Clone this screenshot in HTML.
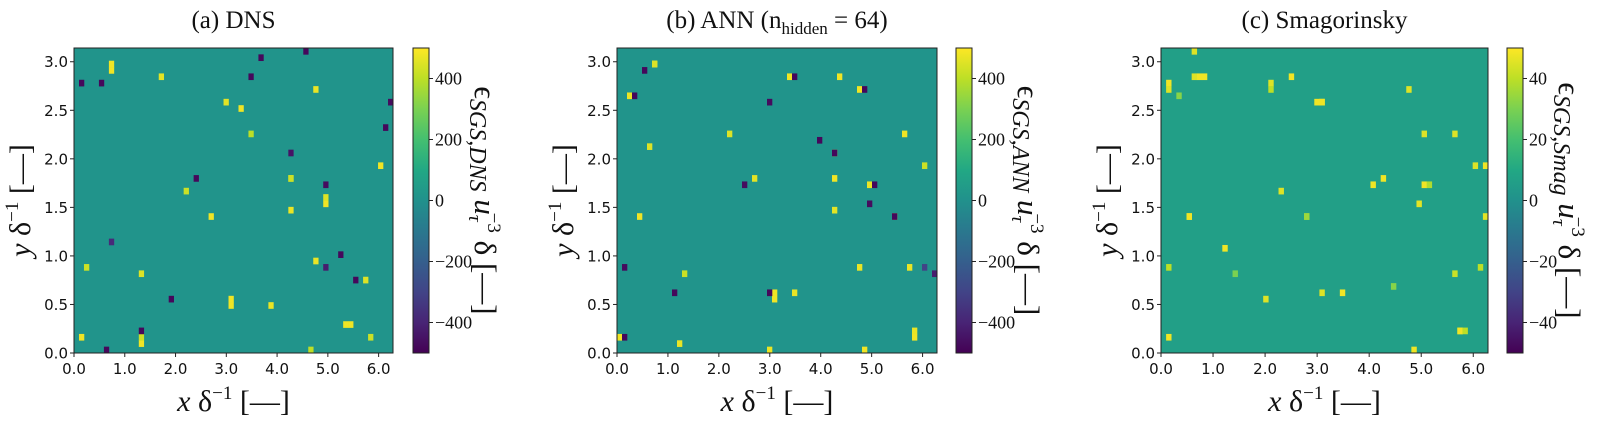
<!DOCTYPE html>
<html><head><meta charset="utf-8"><style>
html,body{margin:0;padding:0;background:#fff;}
svg{display:block;}
</style></head><body>
<svg id="fig" width="1605" height="423" viewBox="0 0 1605 423" xmlns="http://www.w3.org/2000/svg"></svg>
<script>
// ---- data: hot-spot cells [x, y, value] per panel ----
const dnsSpots = [[0.71,2.93,480],[0.71,2.99,480],[3.05,0.52,480],[3.05,0.58,480],[4.30,1.80,480],[4.24,1.80,420],[4.30,1.47,470],[4.91,1.54,480],[4.91,1.60,450],[5.35,0.29,480],[5.42,0.29,480],[1.29,0.12,480],[1.29,0.18,420],[1.35,0.79,450],[3.53,2.26,400],[3.28,2.52,480],[2.20,1.70,420],[2.71,1.40,480],[3.89,0.49,470],[0.10,0.16,480],[4.73,0.93,470],[5.72,0.76,450],[5.89,0.19,420],[4.81,2.71,470],[1.73,2.84,460],[6.02,1.94,480],[0.27,0.88,420],[3.01,2.58,460],[4.71,0.02,400],
[0.51,2.81,-480],[0.10,2.79,-480],[3.45,2.84,-480],[3.70,3.05,-480],[6.13,2.31,-480],[6.19,2.58,-470],[5.52,0.76,-480],[4.94,0.86,-420],[0.68,0.04,-480],[2.44,1.80,-480],[5.00,1.73,-470],[4.60,3.11,-480],[4.26,2.05,-450],[1.96,0.57,-480],[1.31,0.23,-480],[0.71,1.15,-380],[5.28,1.01,-480]];
const annSpots = [[0.71,2.95,480],[0.71,3.01,480],[0.78,2.95,450],[3.07,0.62,480],[3.07,0.56,480],[4.25,1.80,480],[4.77,2.71,480],[5.89,0.19,480],[5.89,0.25,470],[5.69,2.26,480],[4.25,2.06,470],[4.41,2.84,480],[3.43,2.84,480],[4.74,0.91,470],[0.28,2.66,470],[0.09,0.15,480],[1.27,0.09,470],[1.33,0.79,420],[0.48,1.40,480],[2.18,2.26,450],[2.71,1.80,460],[5.00,1.73,470],[3.50,0.62,470],[5.73,0.89,470],[5.99,1.94,420],[4.87,0.03,480],[2.97,0.03,470],[0.68,2.12,450],[4.28,1.47,460],[5.40,1.40,460],
[0.54,2.91,-480],[3.50,2.84,-480],[0.35,2.64,-480],[4.88,2.71,-480],[5.10,1.73,-480],[5.46,1.40,-480],[0.15,0.15,-480],[3.01,0.62,-480],[4.02,2.19,-480],[4.28,2.06,-480],[6.24,0.82,-420],[6.08,0.87,-300],[5.00,1.54,-470],[2.51,1.73,-470],[0.15,0.89,-470],[1.13,0.62,-480],[3.00,2.60,-470]];
const smagSpots = [[0.75,2.86,48],[0.82,2.86,48],[0.68,2.86,45],[0.18,2.79,48],[0.18,2.73,45],[2.98,2.58,48],[3.05,2.58,48],[3.12,2.58,48],[2.48,2.84,48],[2.15,2.79,45],[2.15,2.73,40],[0.65,3.10,45],[0.51,1.40,48],[0.58,1.40,48],[2.75,1.40,35],[2.82,1.40,35],[2.32,1.66,45],[4.09,1.74,48],[4.26,1.80,48],[5.09,1.74,48],[5.16,1.74,38],[4.92,1.53,46],[6.02,1.93,45],[6.19,1.93,48],[6.22,1.40,46],[5.02,2.26,45],[5.66,2.26,45],[4.79,2.71,45],[1.25,1.08,48],[0.15,0.87,40],[0.15,0.17,48],[5.79,0.23,48],[5.72,0.23,48],[5.86,0.23,40],[3.52,0.62,48],[3.05,0.62,45],[2.02,0.55,45],[4.89,0.03,48],[5.66,0.82,42],[6.09,0.89,40],[1.45,0.80,30],[4.42,0.68,32],[0.38,2.65,32]];
const xTicks = [0,1,2,3,4,5,6];
const yTicks = [0,0.5,1,1.5,2,2.5,3];
const cbTicksDNS = [-400,-200,0,200,400];
const cbTicksSmag = [-40,-20,0,20,40];
const titles = ["(a) DNS","(b) ANN","(c) Smagorinsky"];
// ---------------------------------------------------------------------------
const NS="http://www.w3.org/2000/svg";
const svg=document.getElementById('fig');
const VIR=["#440154","#482475","#414487","#355f8d","#2a788e","#21918c","#22a884","#44bf70","#7ad151","#bddf26","#fde725"];
function hex(c){return [parseInt(c.substr(1,2),16),parseInt(c.substr(3,2),16),parseInt(c.substr(5,2),16)];}
function viridis(t){t=Math.max(0,Math.min(1,t));const f=t*10,i=Math.min(9,Math.floor(f)),r=f-i;const a=hex(VIR[i]),b=hex(VIR[i+1]);return `rgb(${a.map((v,k)=>Math.round(v+(b[k]-v)*r)).join(',')})`;}
function el(tag,attrs,parent){const e=document.createElementNS(NS,tag);for(const k in attrs)e.setAttribute(k,attrs[k]);(parent||svg).appendChild(e);return e;}
const defs=el('defs',{});
const lg=el('linearGradient',{id:'vg',x1:0,y1:1,x2:0,y2:0},defs);
VIR.forEach((c,i)=>el('stop',{offset:i/10,'stop-color':c},lg));
const XMAX=2*Math.PI,YMAX=Math.PI,NX=64,NY=48;
const panels=[
 {key:'dns',left:74,w:319,spots:dnsSpots,vmax:500,bg:15,cbx:413,ticks:cbTicksDNS,sub:'SGS,DNS'},
 {key:'ann',left:617,w:320,spots:annSpots,vmax:500,bg:15,cbx:956,ticks:cbTicksDNS,sub:'SGS,ANN'},
 {key:'smag',left:1161,w:327,spots:smagSpots,vmax:50,bg:6,cbx:1507,ticks:cbTicksSmag,sub:'SGS,Smag'}];
const TOP=48,H=305;
panels.forEach((p,pi)=>{
  const g=el('g',{});
  
  
  const xs=v=>p.left+v/XMAX*p.w, ys=v=>TOP+H-v/YMAX*H;
  const cw=p.w/NX, ch=H/NY;
  const color=v=>viridis((v+p.vmax)/(2*p.vmax));
  const bg=el('rect',{x:p.left,y:TOP,width:p.w,height:H,fill:color(p.bg)},g);
  
  
  p.spots.forEach(s=>{
    const cx=Math.floor(s[0]/XMAX*NX), cy=Math.floor(s[1]/YMAX*NY);
    const r=el('rect',{x:xs(cx*XMAX/NX),y:ys((cy+1)*YMAX/NY),width:cw+0.3,height:ch+0.3,fill:color(s[2])},g);
    
    
  });
  const fr=el('rect',{x:p.left,y:TOP,width:p.w,height:H,fill:'none',stroke:'#222','stroke-width':1},g);
  
  
  xTicks.forEach(t=>{
    const x=xs(t);
    el('line',{x1:x,y1:TOP+H,x2:x,y2:TOP+H+4,stroke:'#222'},g);
    const tx=el('text',{x:x,y:TOP+H+21,'text-anchor':'middle','font-family':'DejaVu Sans, sans-serif','font-size':15,fill:'#111'},g);
    tx.textContent=t.toFixed(1);
    
    
  });
  yTicks.forEach(t=>{
    const y=ys(t);
    el('line',{x1:p.left-4,y1:y,x2:p.left,y2:y,stroke:'#222'},g);
    const tx=el('text',{x:p.left-6,y:y+5.5,'text-anchor':'end','font-family':'DejaVu Sans, sans-serif','font-size':15,fill:'#111'},g);
    tx.textContent=t.toFixed(1);
    
    
  });
  const ti=el('text',{x:p.left+p.w/2,y:28,'text-anchor':'middle','font-family':'Liberation Serif, serif','font-size':25,fill:'#111'},g);
  
  
  if(pi===1){ti.innerHTML='(b) ANN (n<tspan font-size="17" dy="6">hidden</tspan><tspan dy="-6"> = 64)</tspan>';}
  else ti.textContent=titles[pi];
  const xl=el('text',{x:p.left+p.w/2,y:411,'text-anchor':'middle','font-family':'Liberation Serif, serif','font-size':30,fill:'#111'},g);
  xl.innerHTML='<tspan font-style="italic">x</tspan> δ<tspan font-size="19" dy="-12">−1</tspan><tspan dy="12"> [—]</tspan>';
  
  
  const yl=el('text',{x:0,y:0,'text-anchor':'middle','font-family':'Liberation Serif, serif','font-size':30,fill:'#111',transform:`translate(${p.left-44},${TOP+H/2}) rotate(-90)`},g);
  yl.innerHTML='<tspan font-style="italic">y</tspan> δ<tspan font-size="19" dy="-12">−1</tspan><tspan dy="12"> [—]</tspan>';
  
  
  const cb=el('rect',{x:p.cbx,y:TOP,width:16,height:H,fill:'url(#vg)',stroke:'#222','stroke-width':1},g);
  
  
  p.ticks.forEach(t=>{
    const y=TOP+H-(t+p.vmax)/(2*p.vmax)*H;
    el('line',{x1:p.cbx+16,y1:y,x2:p.cbx+20,y2:y,stroke:'#222'},g);
    const tx=el('text',{x:p.cbx+22,y:y+6,'font-family':'Liberation Serif, serif','font-size':18,fill:'#111'},g);
    tx.textContent=(t<0?'−':'')+Math.abs(t);
    
    
  });
  const cl=el('text',{x:0,y:0,'text-anchor':'middle','font-family':'Liberation Serif, serif','font-size':31,fill:'#111',transform:`translate(${p.cbx+(pi===2?52:62)},${TOP+H/2}) rotate(90)`},g);
  cl.innerHTML=`ϵ<tspan font-style="italic" font-size="24" dy="5">${p.sub}</tspan><tspan dy="-5"> </tspan><tspan font-style="italic">u</tspan><tspan font-style="italic" font-size="19" dy="6">τ</tspan><tspan font-size="19" dx="-9" dy="-19">−3</tspan><tspan dy="13"> δ [—]</tspan>`;
  
  
});
</script>
</body></html>
